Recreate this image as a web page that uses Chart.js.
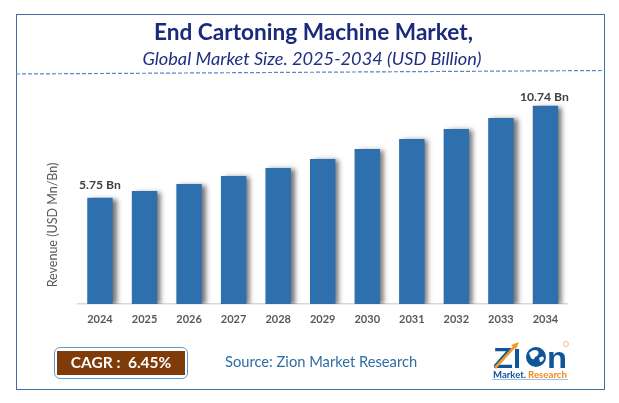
<!doctype html>
<html lang="en">
<head>
  <meta charset="utf-8">
  <title>End Cartoning Machine Market</title>
  <script src="https://cdn.jsdelivr.net/npm/chart.js"></script>
  <style>
    html, body { margin: 0; padding: 0; background: #fff; }
    body { width: 619px; height: 403px; position: relative; overflow: hidden; font-family: Lato, sans-serif; }
    #chart { position: absolute; left: 0; top: 0; }
    .txt { position: absolute; white-space: nowrap; line-height: 1; }
    #frame { position: absolute; left: 16px; top: 14px; width: 587px; height: 374px; border: 1.5px solid #3f6f9f; }
    #title { left: 0; width: 627px; text-align: center; top: 21px; font-size: 22.6px; font-weight: 700; color: #1c2a7c; }
    #subtitle { left: 0; width: 624px; text-align: center; top: 49px; font-size: 18.2px; font-style: italic; color: #1f2f82; }
    #cagrBox { position: absolute; left: 54px; top: 347px; width: 132px; height: 30px; border: 1.5px solid #5b9bd5; border-radius: 6px; }
    #cagrFill { position: absolute; left: 57px; top: 351px; width: 128px; height: 24px; background: #7f3b08; }
    #cagr { left: 57px; width: 128px; text-align: center; top: 355px; font-size: 15.5px; font-weight: 700; color: #fff; }
    #source { left: 225px; top: 354px; font-size: 14.7px; color: #2e6da4; }
    #deco { position: absolute; left: 0; top: 0; }
  </style>
</head>
<body>
<canvas id="chart" width="619" height="403"></canvas>
<div id="frame"></div>
<svg id="deco" width="619" height="403">
  <line x1="16" y1="74" x2="604" y2="70.5" stroke="#5b86cc" stroke-width="1.2" stroke-dasharray="4 2"/>
  <!-- logo -->
  <text x="493" y="368" font-family="Liberation Sans" font-weight="700" font-size="29" fill="#10549c" textLength="20" lengthAdjust="spacingAndGlyphs">Z</text>
  <line x1="495" y1="368" x2="516" y2="345" stroke="#f59a23" stroke-width="2.6"/>
  <path d="M519 342 L511 345 L516 349 Z" fill="#f59a23"/>
  <rect x="515" y="349" width="4" height="19" fill="#10549c"/>
  <circle cx="536" cy="357" r="10" fill="#10549c"/>
  <path d="M529 353 q5 -5 9 -2 q2 4 -3 6 q-1 4 -4 1 Z M539 358 q4 -3 5 0 q-1 4 -4 4 Z" fill="#fff"/>
  <text x="547" y="368" font-family="Liberation Sans" font-weight="700" font-size="29" fill="#10549c" textLength="20" lengthAdjust="spacingAndGlyphs">n</text>
  <circle cx="566" cy="344" r="2.5" fill="none" stroke="#f5c080" stroke-width="1"/>
  <text x="493" y="378" font-family="Lato" font-weight="700" font-size="10" fill="#10549c" textLength="33" lengthAdjust="spacingAndGlyphs">Market.</text>
  <text x="528" y="378" font-family="Lato" font-weight="700" font-size="10" fill="#f08a1d" textLength="39" lengthAdjust="spacingAndGlyphs">Research</text>
  <line x1="492" y1="379.5" x2="568" y2="379.5" stroke="#9cc2e6" stroke-width="1"/>
</svg>
<div class="txt" id="title">End Cartoning Machine Market,</div>
<div class="txt" id="subtitle">Global Market Size. 2025-2034 (USD Billion)</div>
<div id="cagrBox"></div>
<div id="cagrFill"></div>
<div class="txt" id="cagr">CAGR :&nbsp; 6.45%</div>
<div class="txt" id="source">Source: Zion Market Research</div>

<script>
  const years = ['2024', '2025', '2026', '2027', '2028', '2029', '2030', '2031', '2032', '2033', '2034'];
  const revenue = [5.75, 6.12, 6.5, 6.93, 7.36, 7.85, 8.4, 8.93, 9.47, 10.07, 10.74];
  const valueLabels = ['5.75 Bn', null, null, null, null, null, null, null, null, null, '10.74 Bn'];
  const yAxisTitle = 'Revenue (USD Mn/Bn)';

  // soft grey shadow to the right of the bars
  const barShadow = {
    id: 'barShadow',
    beforeDatasetsDraw(chart) {
      const c = chart.ctx;
      c.save();
      c.shadowColor = 'rgba(0,0,0,0.55)';
      c.shadowBlur = 5;
      c.shadowOffsetX = 4;
      c.shadowOffsetY = 1;
    },
    afterDatasetsDraw(chart) {
      chart.ctx.restore();
    }
  };

  // first and last value labels, plus the y axis title
  const extraText = {
    id: 'extraText',
    afterDraw(chart) {
      const c = chart.ctx;
      const meta = chart.getDatasetMeta(0);
      c.save();
      c.font = '700 12.2px Lato';
      c.fillStyle = '#404040';
      c.textAlign = 'center';
      c.textBaseline = 'middle';
      valueLabels.forEach((label, i) => {
        if (!label) return;
        const bar = meta.data[i];
        const above = i === 0 ? 13 : 9;
        c.fillText(label, bar.x - (i === 0 ? 0 : 1), bar.y - above);
      });
      c.translate(53, 225);
      c.rotate(-Math.PI / 2);
      c.font = '12.5px Lato';
      c.fillStyle = '#595959';
      c.fillText(yAxisTitle, 0, 0);
      c.restore();
    }
  };

  new Chart(document.getElementById('chart').getContext('2d'), {
    type: 'bar',
    data: {
      labels: years,
      datasets: [{
        data: revenue,
        backgroundColor: '#2e6fad',
        categoryPercentage: 1,
        barPercentage: 0.57
      }]
    },
    options: {
      responsive: false,
      animation: false,
      layout: { padding: { left: 77.7, right: 51.3, top: 82.4, bottom: 0 } },
      plugins: { legend: { display: false }, tooltip: { enabled: false } },
      scales: {
        x: {
          grid: { display: false, drawTicks: false },
          border: { color: '#d9d9d9', width: 1.5 },
          ticks: { color: '#595959', font: { family: 'Lato', weight: '700', size: 11 }, padding: 9, maxRotation: 0 },
          afterFit(scale) { scale.height = 99; }
        },
        y: { display: false, min: 0, max: 12 }
      }
    },
    plugins: [barShadow, extraText]
  });
</script>
</body>
</html>
